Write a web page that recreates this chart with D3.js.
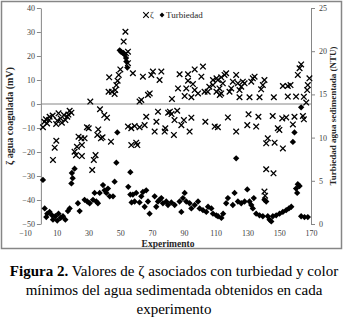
<!DOCTYPE html>
<html>
<head>
<meta charset="utf-8">
<script src="https://cdn.jsdelivr.net/npm/d3@7"></script>
<style>
  body { margin: 0; background: #fff; }
  svg { display: block; }
</style>
</head>
<body>
<svg id="chart" width="348" height="321"></svg>
<script>
const zetaPts = [
  [1.3,-9.7],[2.2,-7.4],[3.2,-6.4],[3.9,-8.1],[5.5,-5.3],[5.2,-6.7],[7.4,-4.8],[9.6,-8.3],[10.3,-6.9],
  [11.1,-3.9],[12.4,-6],[13.2,-7.8],[14.5,-4.6],[15.4,-6.7],[16.6,-5.3],[17.3,-4.4],[18.1,-2.8],[19.2,-3.6],
  [9.7,-15.3],[8.7,-18.2],[7.6,-23.3],
  [21.2,-19.9],[22.1,-21.3],[22.7,-17.8],[23.7,-13.6],[25.4,-14.3],[25.8,-17.1],[25.8,-21.7],[27.5,-14.3],
  [29.0,-9.7],[30.1,-10.1],[31.1,1],[33.3,-23.3],[34.4,-21.3],[32.3,-27.5],[36.1,-10.6],[35.5,-12.9],
  [37.2,-2.2],[37.8,-14.3],[38.8,-13.9],[39.9,-4.6],[41.6,-5.7],[44.1,-15.7],[42.6,5.1],[43.0,11.1],
  [44.7,5.1],[46.4,4.2],[46.8,5.8],[47.5,7.9],[48.3,9.7],[49.0,12.1],[50.0,14.4],[53.6,21.1],[52.1,26],[53.2,30.1],
  [54.8,21.8],[54.8,17],[57.9,12.8],[64.2,11.4],[69.5,12.1],[70.5,13.5],[75.8,13.5],[74.7,10],
  [63.2,1.7],[62.1,1.0],[68.5,4.4],[67.4,3.8],[82.5,2.1],[87.3,12.4],[86.3,6.5],[92.6,12.4],[92.6,9.7],
  [91.5,6.5],[90.5,3.3],[94.7,2.8],[96.8,14.4],[102,15.6],[101,11.4],[95.7,8.3],[96.8,5.8],[98.9,4.4],
  [103,5.1],[105,5.1],[106,7.2],[108.3,7.9],[108.3,10],[110.5,10.7],[110.5,5.1],[112.6,3.8],
  [54.8,-9.4],[56.9,-10.1],[59,-9.2],[62.1,-9.7],[65.3,-8.8],[66.3,-5.3],[72.7,-7.4],[73.7,-3.2],
  [71.6,-11.5],[77.9,-11.5],[78.3,-10.1],[80.1,-3.6],[81.2,-3.2],[82.2,-4.2],[85.8,-2.8],[84.1,-6.7],
  [88.4,-8.8],[90,-6.7],[94.7,-5.7],[93.6,-11.5],[83.7,-12.9],[103.5,-7.4],[109.4,-9.4],
  [56.9,-17.1],[60,-16.1],[60.7,-17.1],
  [111.4,10.0],[113.5,11.1],[115.6,12.1],[116.6,12.8],[114.5,8.6],[112.4,6.5],[113.5,4.4],[118.7,5.1],
  [119.8,6.5],[120.8,9.3],[122.9,12.1],[124.0,8.6],[126.1,7.2],[125.0,5.8],[127.1,9.3],[125.0,2.8],
  [128.2,8.6],[132.4,9.3],[133.4,10.7],[134.5,11.4],[131.3,2.8],[137.6,2.8],[138.6,6.1],[139.7,7.9],
  [140.7,10.0],[146.6,2.8],[152.3,7.5],[155.4,7.5],[157.1,7.9],[155.4,3.1],[160.6,3.1],[161.7,12.1],
  [162.8,14.9],[163.8,16.5],[169.0,10.7],[168.0,7.9],[167.6,5.8],[167.0,0.6],[165.5,3.0],
  [111.4,-9.7],[117.7,-5.6],[122.9,-11.5],[129.9,-8.8],[130.7,-4.3],[135.5,-9.4],[136.9,-5.3],
  [145.9,-5.0],[149.1,-10.1],[150.1,-10.8],[151.9,-6.0],[154.4,-5.6],[158.6,-8.5],[159.6,-5.3],
  [164.9,-5.0],[165.5,-6.4],[142.8,-14.3],[141.8,-16.4],[147.1,-16.1],[152.3,-18.5],[141.8,-27.2],
  [146.4,-28.9],[140.7,-36.5],[141.1,-38.2]
];

// Turbidez del agua sedimentada (NTU) per experiment
const turbPts = [
  [1.3,5.1],[2.4,1.8],[4.0,1.2],[3.4,0.8],[5.5,1.4],[7.0,1.0],[7.6,0.5],[9.1,0.9],[10.3,0.4],
  [11.1,1.2],[12.4,0.7],[13.9,0.9],[15.4,0.5],[17.0,1.5],[18.1,1.8],
  [21.2,6.4],[19.5,5.9],[19.2,4.7],[20.0,5.3],[23.3,2.4],[24.4,1.5],[27.5,2.8],[29.2,2.6],[30.7,2.4],
  [32.8,2.8],[34.9,2.6],[35.9,2.4],[33.8,3.6],[37.0,3.6],[39.1,4.5],[40.1,3.9],[41.2,3.6],[42.2,4.1],
  [43.3,3.2],[45.4,3.2],[46.4,4.9],[47.5,7.1],[48.1,10.6],
  [49.6,20.1],[50.6,19.9],[51.7,19.8],[52.7,19.6],[53.6,19.2],[53.8,18.8],[54.4,18.1],
  [56.3,6.0],[55.0,4.3],[56.3,3.4],[57.1,2.5],
  [57.9,3.4],[60.0,3.6],[64.2,3.7],[66.3,3.9],[59.0,2.6],[63.2,3.2],[62.1,2.5],[67.4,2.6],[65.3,2.0],
  [68.4,1.2],[71.6,3.2],[73.7,2.6],[74.7,2.8],[75.8,3.0],[72.6,2.0],[76.8,2.4],[78.9,2.6],[80.0,2.2],
  [82.1,2.5],[84.2,2.2],[87.3,2.6],[90.5,3.6],[89.4,3.0],[91.5,2.6],[88.4,1.4],[93.6,2.4],[94.7,1.8],
  [96.8,2.2],[98.9,2.6],[99.9,1.8],[102.0,1.6],[104.1,1.4],[105.2,2.0],[107.3,1.8],[108.3,1.2],
  [110.4,1.0],[111.5,0.9],[113.6,0.7],[114.7,1.2],
  [116.6,2.4],[117.7,3.0],[120.8,2.2],[121.9,3.6],[124.0,2.6],[126.1,2.4],[128.2,2.6],[129.9,4.0],
  [131.3,2.6],[132.4,2.2],[134.0,3.0],[133.4,1.8],[135.5,1.2],[137.6,1.0],[139.7,0.9],[140.7,2.8],
  [141.8,2.6],[142.8,0.9],[143.9,0.5],[145.0,0.3],[146.0,0.9],[148.1,1.0],[150.2,1.2],[152.3,1.4],
  [154.4,1.6],[156.1,1.8],[157.6,2.0],[163.8,0.9],[165.9,0.8],[168.0,0.8],
  [122.9,7.6],[159.6,10.6],[158.6,9.5],[161.7,4.6],[162.8,4.4],[160.6,4.1],[161.3,3.6],[163.8,13.5]
];

const xTicks = [-10, 10, 30, 50, 70, 90, 110, 130, 150, 170];
const zetaTicks = [-50, -40, -30, -20, -10, 0, 10, 20, 30, 40];
const turbTicks = [0, 5, 10, 15, 20, 25];

const svg = d3.select("#chart");
const gray = "#868686";
const serif = "Liberation Serif, DejaVu Serif, Noto Serif, serif";

// chart frame
svg.append("rect")
  .attr("x", 1.5).attr("y", 1.5)
  .attr("width", 340).attr("height", 247)
  .attr("fill", "#fff")
  .attr("stroke", gray).attr("stroke-width", 1.5);

const x = d3.scaleLinear().domain([-10, 170]).range([25, 311]);
const yL = d3.scaleLinear().domain([-50, 40]).range([224, 8]);
const yR = d3.scaleLinear().domain([0, 25]).range([224, 8]);

// horizontal axis line at ζ = 0
svg.append("g")
  .attr("transform", `translate(0,${yL(0)})`)
  .call(d3.axisBottom(x).tickValues([]).tickSizeOuter(0))
  .call(g => g.select(".domain").attr("d", `M${x(0)},0H${x(170)}`));

// x tick labels at the bottom
svg.append("g")
  .attr("transform", `translate(0,${yL(-50)})`)
  .call(d3.axisBottom(x).tickValues(xTicks).tickSize(0).tickPadding(6))
  .call(g => g.select(".domain").remove());

// left axis
svg.append("g")
  .attr("transform", `translate(${x(0)},0)`)
  .call(d3.axisLeft(yL).tickValues(zetaTicks).tickSize(4).tickSizeOuter(0).tickPadding(2));

// right axis
svg.append("g")
  .attr("transform", `translate(${x(170)},0)`)
  .call(d3.axisRight(yR).tickValues(turbTicks).tickSize(4).tickSizeOuter(0).tickPadding(4));

svg.selectAll(".domain").attr("stroke", gray);
svg.selectAll(".tick line").attr("stroke", gray);
svg.selectAll(".tick text")
  .attr("fill", "#404040")
  .attr("font-family", serif)
  .attr("font-size", 8);

// markers
const cross = "M-2.8,-2.8L2.8,2.8M-2.8,2.8L2.8,-2.8";
svg.append("g").selectAll("path")
  .data(zetaPts)
  .join("path")
    .attr("transform", d => `translate(${x(d[0])},${yL(d[1])})`)
    .attr("d", cross)
    .attr("stroke", "#000").attr("stroke-width", 1.3).attr("fill", "none");

const diamond = d3.symbol(d3.symbolSquare, 20)();
svg.append("g").selectAll("path")
  .data(turbPts)
  .join("path")
    .attr("transform", d => `translate(${x(d[0])},${yR(d[1])}) rotate(45)`)
    .attr("d", diamond)
    .attr("fill", "#000");

// axis titles
svg.append("text")
  .attr("transform", `translate(13,${(yL(40) + yL(-50)) / 2}) rotate(-90)`)
  .attr("text-anchor", "middle")
  .attr("font-family", serif).attr("font-size", 10).attr("font-weight", "bold")
  .attr("fill", "#262626")
  .text("ζ agua coagulada (mV)");

svg.append("text")
  .attr("transform", `translate(336,${(yR(0) + yR(25)) / 2}) rotate(-90)`)
  .attr("text-anchor", "middle")
  .attr("font-family", serif).attr("font-size", 9).attr("font-weight", "bold")
  .attr("fill", "#262626")
  .text("Turbiedad agua sedimentada (NTU)");

svg.append("text")
  .attr("x", (x(-10) + x(170)) / 2).attr("y", 247)
  .attr("text-anchor", "middle")
  .attr("font-family", serif).attr("font-size", 9.5).attr("font-weight", "bold")
  .attr("fill", "#262626")
  .text("Experimento");

// legend
const leg = svg.append("g").attr("transform", "translate(146,15)");
leg.append("path").attr("d", cross).attr("stroke", "#000").attr("stroke-width", 1.1).attr("fill", "none");
leg.append("text").attr("x", 4).attr("y", 3)
  .attr("font-family", serif).attr("font-size", 9).attr("fill", "#262626").text("ζ");
leg.append("path").attr("transform", "translate(16,0) rotate(45)").attr("d", d3.symbol(d3.symbolSquare, 12)());
leg.append("text").attr("x", 20).attr("y", 3)
  .attr("font-family", serif).attr("font-size", 9).attr("fill", "#262626").text("Turbiedad");

// caption
const cap = svg.append("g")
  .attr("font-family", serif).attr("font-size", 15).attr("fill", "#000")
  .attr("text-anchor", "middle");
const l1 = cap.append("text").attr("x", 174).attr("y", 276);
l1.append("tspan").attr("font-weight", "bold").text("Figura 2.");
l1.append("tspan").text(" Valores de ζ asociados con turbiedad y color");
cap.append("text").attr("x", 174).attr("y", 295).text("mínimos del agua sedimentada obtenidos en cada");
cap.append("text").attr("x", 174).attr("y", 314).text("experimento");
</script>
</body>
</html>
